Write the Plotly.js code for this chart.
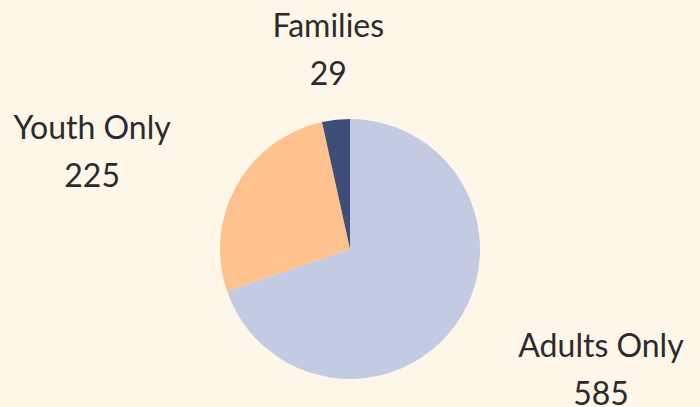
<!DOCTYPE html>
<html><head><meta charset="utf-8">
<script src="https://cdn.plot.ly/plotly-3.0.1.min.js"></script>
<style>html,body{margin:0;padding:0;background:#fff6ea;overflow:hidden;}</style>
</head><body>
<div id="chart" style="width:700px;height:470px;"></div>
<script>
const labels = ["Adults Only", "Youth Only", "Families"];
const values = [585, 225, 29];
const colors = ["#c3cbe3", "#ffc28e", "#3f4e78"];

const W = 700, H = 470;
const cyTop = 249;
function dom(cx, r) {
  const cyB = H - cyTop;
  return {x: [(cx - r) / W, (cx + r) / W], y: [(cyB - r) / H, (cyB + r) / H]};
}
const TXT = "<span style='font-size:32px'>%{label}</span><br><span style='font-size:32px'>%{value}</span>";
const textFont = {family: "Lato, sans-serif", size: 37, color: "#2b2b2b"};
const clear = labels.map(() => "rgba(0,0,0,0)");

const base = {
  type: "pie", labels: labels, values: values, sort: false,
  direction: "clockwise", rotation: 0, showlegend: false, hoverinfo: "skip"
};

const traces = [
  Object.assign({}, base, {
    marker: {colors: colors, line: {width: 0}},
    textinfo: "none",
    hoverinfo: "label+value",
    domain: dom(350, 130)
  }),
  Object.assign({}, base, {
    marker: {colors: clear, line: {width: 0}},
    texttemplate: [TXT, TXT, ""],
    textposition: "outside",
    outsidetextfont: textFont,
    domain: dom(350, 180)
  }),
  Object.assign({}, base, {
    marker: {colors: clear, line: {width: 0}},
    texttemplate: ["", "", TXT],
    textposition: "outside",
    outsidetextfont: textFont,
    domain: dom(423, 158)
  })
];

Plotly.newPlot("chart", traces, {
  width: W, height: H,
  margin: {l: 0, r: 0, t: 0, b: 0},
  paper_bgcolor: "#fff6ea",
  plot_bgcolor: "#fff6ea",
  font: {family: "Lato, sans-serif", color: "#2b2b2b"},
  showlegend: false
}, {displayModeBar: false, staticPlot: true});
</script>
</body></html>
